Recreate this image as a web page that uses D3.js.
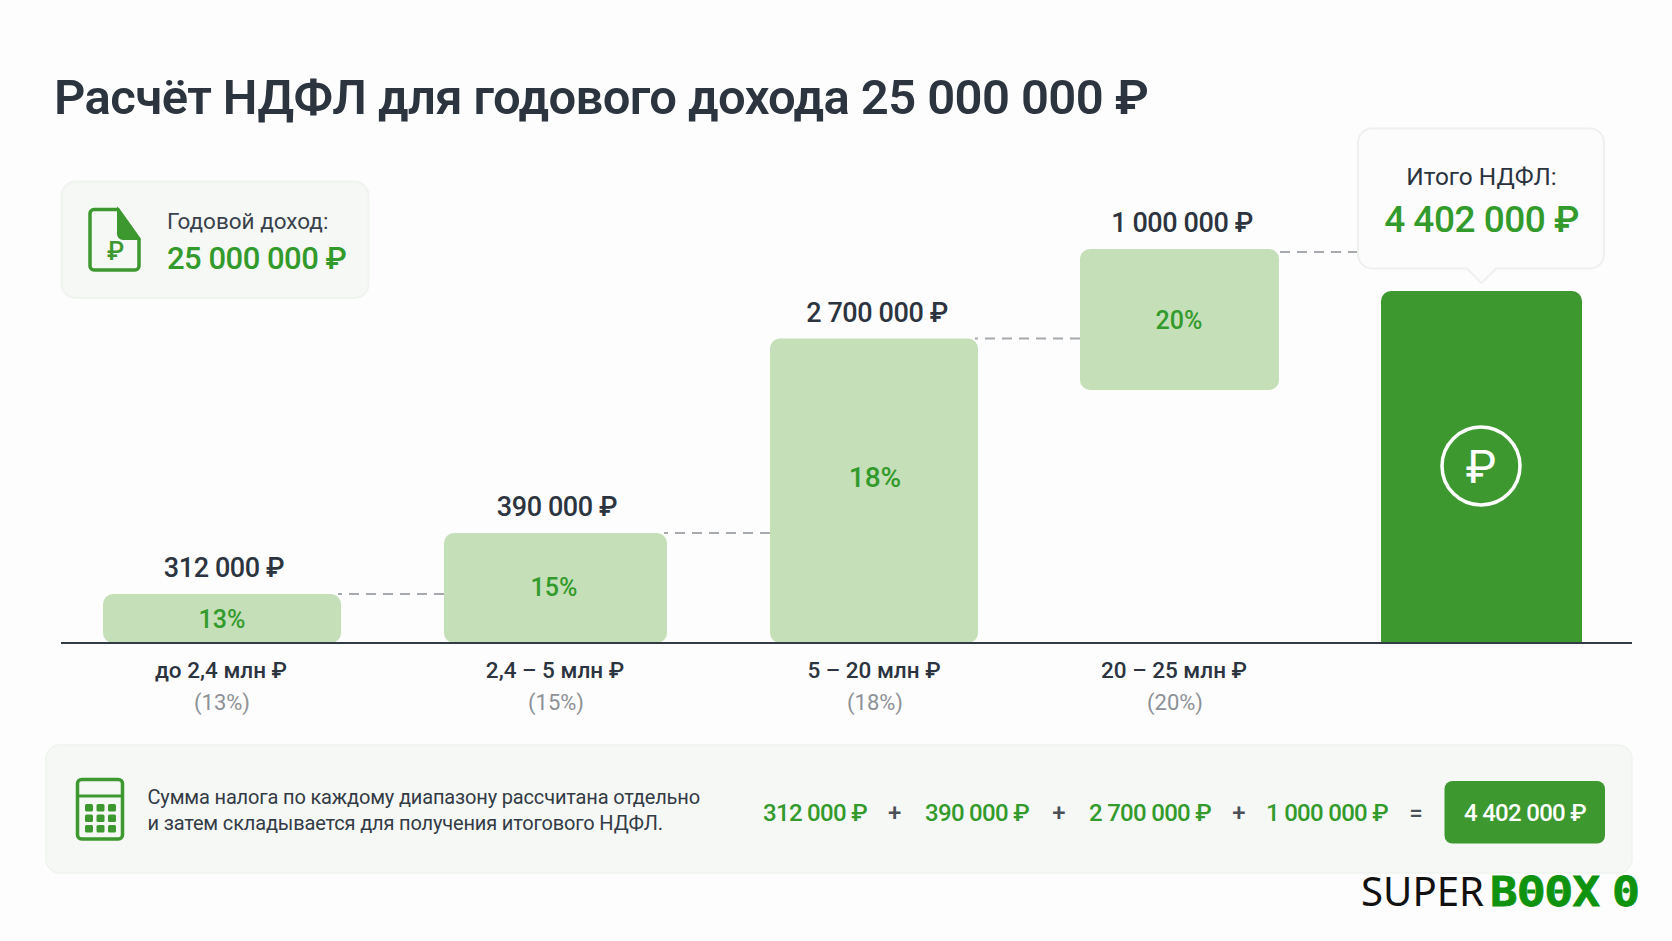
<!DOCTYPE html>
<html>
<head>
<meta charset="utf-8">
<script src="https://cdn.jsdelivr.net/npm/d3@7"></script>
<style>
    html, body { margin: 0; padding: 0; background: #fdfdfd; }
    svg { display: block; }
    text { font-family: Roboto, Inter, "Noto Sans", sans-serif; }
</style>
</head>
<body>
<div id="chart"></div>
<script>
// Data
const title = "Расчёт НДФЛ для годового дохода 25 000 000 ₽";
const income = 25000000;
const categories = ["до 2,4 млн ₽", "2,4 – 5 млн ₽", "5 – 20 млн ₽", "20 – 25 млн ₽"];
const rates = [13, 15, 18, 20];
const taxValues = [312000, 390000, 2700000, 1000000];
// bars are not to scale in the original, so these are drawn heights in chart units
const barLow = [0, 0, 0, 253];
const barHigh = [49, 110, 304.5, 394];
const totalHigh = 352;
const noteLines = ["Сумма налога по каждому диапазону рассчитана отдельно",
    "и затем складывается для получения итогового НДФЛ."];

const width = 1672;
const height = 941;
const green = "#3c982f";
const textGreen = "#339a2c";
const lightGreen = "#c5dfb8";
const dark = "#2c343f";
const panelFill = "#f6f8f5";
const panelStroke = "#eff4ee";

const rub = d3.formatLocale({ decimal: ",", thousands: " ", grouping: [3], currency: ["", " ₽"] }).format("$,");
const total = d3.sum(taxValues);

const y = d3.scaleLinear().domain([0, 400]).range([643, 243]);
// the bars have uneven widths and gaps, so left edge and width go through ordinal scales
const barLeft = d3.scaleOrdinal(categories, [103, 444, 770, 1080]);
const barWidth = d3.scaleOrdinal(categories, [238, 223, 208, 199]);
const valueX = d3.scaleOrdinal(categories, [224, 557, 877, 1182]);
const rateX = d3.scaleOrdinal(categories, [222, 554, 875, 1179]);
const rateSize = d3.scaleOrdinal(categories, [25, 25, 28, 25]);
const rateDy = d3.scaleOrdinal(categories, [9, 8, -4, 9]);
const axisX = d3.scaleOrdinal(categories, [221, 555, 874, 1174]);

const svg = d3.select("#chart").append("svg")
    .attr("width", width)
    .attr("height", height);

svg.append("rect").attr("width", width).attr("height", height).attr("fill", "#fdfdfd");

svg.append("text")
    .attr("x", 54).attr("y", 114)
    .attr("font-size", 49).attr("font-weight", 600)
    .attr("letter-spacing", -0.6)
    .attr("fill", dark)
    .text(title);

// income card
const card = svg.append("g");
card.append("rect")
    .attr("x", 61.5).attr("y", 181.5).attr("width", 307).attr("height", 116.5).attr("rx", 14)
    .attr("fill", panelFill).attr("stroke", panelStroke).attr("stroke-width", 2);
card.append("path")
    .attr("d", "M94 209.5H118L139 239V266a4 4 0 0 1 -4 4H94a4 4 0 0 1 -4 -4V213.5a4 4 0 0 1 4 -4Z")
    .attr("fill", "none").attr("stroke", green).attr("stroke-width", 3.5);
card.append("path")
    .attr("d", "M118 209.5L139 239H123a5 5 0 0 1 -5 -5Z")
    .attr("fill", green).attr("stroke", green).attr("stroke-width", 2);
card.append("text")
    .attr("x", 115.5).attr("y", 260).attr("text-anchor", "middle")
    .attr("font-size", 25).attr("font-weight", 500).attr("fill", green).text("₽");
card.append("text")
    .attr("x", 167).attr("y", 229)
    .attr("font-size", 22.5).attr("fill", "#3a424c").text("Годовой доход:");
card.append("text")
    .attr("x", 167).attr("y", 269)
    .attr("font-size", 31).attr("font-weight", 500).attr("letter-spacing", -0.5)
    .attr("fill", textGreen).text(rub(income));

// dashed connectors, drawn before the bars and the callout
const connectorEnds = categories.map((c, i) => i < 3 ? barLeft(categories[i + 1]) : 1358);
svg.append("g").selectAll("line")
    .data(categories)
    .enter()
    .append("line")
    .attr("x1", (c, i) => connectorEnds[i])
    .attr("x2", c => barLeft(c) + barWidth(c) - 3)
    .attr("y1", (c, i) => y(barHigh[i]) + (i == 3 ? 3 : 0))
    .attr("y2", (c, i) => y(barHigh[i]) + (i == 3 ? 3 : 0))
    .attr("stroke", "#a6a9ae").attr("stroke-width", 2).attr("stroke-dasharray", "10 7");

// step bars
svg.append("g").selectAll("rect")
    .data(categories)
    .enter()
    .append("rect")
    .attr("x", c => barLeft(c))
    .attr("width", c => barWidth(c))
    .attr("y", (c, i) => y(barHigh[i]))
    .attr("height", (c, i) => y(barLow[i]) - y(barHigh[i]))
    .attr("rx", 10)
    .attr("fill", lightGreen);

// value above each bar
svg.append("g").selectAll("text")
    .data(categories)
    .enter()
    .append("text")
    .attr("x", c => valueX(c))
    .attr("y", (c, i) => y(barHigh[i]) - 17)
    .attr("text-anchor", "middle")
    .attr("font-size", 27).attr("font-weight", 500).attr("letter-spacing", -0.4)
    .attr("fill", dark)
    .text((c, i) => rub(taxValues[i]));

// rate inside each bar
svg.append("g").selectAll("text")
    .data(categories)
    .enter()
    .append("text")
    .attr("x", c => rateX(c))
    .attr("y", (c, i) => (y(barLow[i]) + y(barHigh[i])) / 2 + rateDy(c))
    .attr("text-anchor", "middle")
    .attr("font-size", c => rateSize(c)).attr("font-weight", 500).attr("fill", textGreen)
    .text((c, i) => rates[i] + "%");

// total bar, rounded on top only
svg.append("path")
    .attr("d", `M1381 ${y(0)}V${y(totalHigh) + 10}a10 10 0 0 1 10 -10H1572a10 10 0 0 1 10 10V${y(0)}Z`)
    .attr("fill", green);
svg.append("circle")
    .attr("cx", 1481).attr("cy", 466).attr("r", 39)
    .attr("fill", "none").attr("stroke", "#fff").attr("stroke-width", 3.5);
svg.append("text")
    .attr("x", 1481).attr("y", 483).attr("text-anchor", "middle")
    .attr("font-size", 46).attr("font-weight", 400).attr("fill", "#fff").text("₽");

// callout over the total bar
svg.append("path")
    .attr("d", "M1372 128.5H1590a14 14 0 0 1 14 14V254.5a14 14 0 0 1 -14 14H1496L1481.5 283L1467 268.5H1372a14 14 0 0 1 -14 -14V142.5a14 14 0 0 1 14 -14Z")
    .attr("fill", "#fcfcfc").attr("stroke", "#eef0ee").attr("stroke-width", 2);
svg.append("text")
    .attr("x", 1481.5).attr("y", 185).attr("text-anchor", "middle")
    .attr("font-size", 24.4).attr("fill", dark).text("Итого НДФЛ:");
svg.append("text")
    .attr("x", 1481.5).attr("y", 232).attr("text-anchor", "middle")
    .attr("font-size", 37).attr("font-weight", 500).attr("letter-spacing", -0.5)
    .attr("fill", textGreen).text(rub(total));

// baseline and category labels
svg.append("line")
    .attr("x1", 61).attr("x2", 1632).attr("y1", y(0)).attr("y2", y(0))
    .attr("stroke", "#333b46").attr("stroke-width", 2);

svg.append("g").selectAll("text")
    .data(categories)
    .enter()
    .append("text")
    .attr("x", c => axisX(c))
    .attr("y", 678)
    .attr("text-anchor", "middle")
    .attr("font-size", 22.5).attr("font-weight", 500).attr("fill", dark)
    .text(c => c);

svg.append("g").selectAll("text")
    .data(categories)
    .enter()
    .append("text")
    .attr("x", c => axisX(c) + 1)
    .attr("y", 710)
    .attr("text-anchor", "middle")
    .attr("font-size", 22).attr("fill", "#8d9197")
    .text((c, i) => "(" + rates[i] + "%)");

// bottom panel
svg.append("rect")
    .attr("x", 46).attr("y", 745).attr("width", 1586).attr("height", 128).attr("rx", 14)
    .attr("fill", panelFill).attr("stroke", panelStroke).attr("stroke-width", 1.5);

const calc = svg.append("g");
calc.append("rect")
    .attr("x", 77.5).attr("y", 779.5).attr("width", 45).attr("height", 59.5).attr("rx", 4)
    .attr("fill", "none").attr("stroke", green).attr("stroke-width", 3.5);
calc.append("line")
    .attr("x1", 77.5).attr("x2", 122.5).attr("y1", 796).attr("y2", 796)
    .attr("stroke", green).attr("stroke-width", 3);
calc.selectAll("rect.key")
    .data(d3.cross(d3.range(3), d3.range(3)))
    .enter()
    .append("rect")
    .attr("class", "key")
    .attr("x", d => 85 + d[0] * 11.5)
    .attr("y", d => 804 + d[1] * 10.5)
    .attr("width", 8).attr("height", 7.5).attr("rx", 1.5)
    .attr("fill", green);

svg.append("g").selectAll("text")
    .data(noteLines)
    .enter()
    .append("text")
    .attr("x", 147.5)
    .attr("y", (d, i) => 804 + i * 26)
    .attr("font-size", 20).attr("letter-spacing", -0.16).attr("fill", "#333b46")
    .text(d => d);

// the sum row
const sumX = d3.scaleOrdinal(taxValues, [815, 977, 1150, 1327]);
const plusX = [894.6, 1059, 1239];
svg.append("g").selectAll("text")
    .data(taxValues)
    .enter()
    .append("text")
    .attr("x", d => sumX(d))
    .attr("y", 821)
    .attr("text-anchor", "middle")
    .attr("font-size", 24).attr("font-weight", 500).attr("letter-spacing", -0.7)
    .attr("fill", textGreen)
    .text(d => rub(d));
svg.append("g").selectAll("text")
    .data(plusX)
    .enter()
    .append("text")
    .attr("x", d => d)
    .attr("y", 821)
    .attr("text-anchor", "middle")
    .attr("font-size", 24).attr("font-weight", 500).attr("fill", "#4a5058")
    .text("+");
svg.append("text")
    .attr("x", 1416).attr("y", 821).attr("text-anchor", "middle")
    .attr("font-size", 24).attr("font-weight", 500).attr("fill", "#4a5058").text("=");
svg.append("rect")
    .attr("x", 1444.5).attr("y", 781).attr("width", 160.5).attr("height", 62.5).attr("rx", 8)
    .attr("fill", green);
svg.append("text")
    .attr("x", 1525).attr("y", 821).attr("text-anchor", "middle")
    .attr("font-size", 24).attr("font-weight", 500).attr("letter-spacing", -0.7)
    .attr("fill", "#fff").text(rub(total));

// watermark
svg.append("text")
    .attr("x", 1361).attr("y", 906)
    .attr("textLength", 123).attr("lengthAdjust", "spacingAndGlyphs")
    .attr("font-size", 40).attr("font-weight", 400).attr("fill", "#111")
    .style("font-family", "'Noto Sans', sans-serif")
    .text("SUPER");
svg.append("text")
    .attr("x", 1490).attr("y", 906)
    .attr("textLength", 110).attr("lengthAdjust", "spacingAndGlyphs")
    .attr("font-size", 40).attr("font-weight", 700).attr("fill", "#0f930f")
    .attr("stroke", "#0f930f").attr("stroke-width", 0.8)
    .style("font-family", "'DejaVu Sans Mono', monospace")
    .text("BOOX");
// the logo's O letters have a small bar in the middle
svg.append("g").selectAll("rect")
    .data([1.5, 2.5])
    .enter()
    .append("rect")
    .attr("x", d => 1490 + 110 * d / 4 - 4)
    .attr("y", 889.5)
    .attr("width", 8).attr("height", 4)
    .attr("fill", "#0f930f");
svg.append("text")
    .attr("x", 1612).attr("y", 906)
    .attr("textLength", 28).attr("lengthAdjust", "spacingAndGlyphs")
    .attr("font-size", 40).attr("font-weight", 700).attr("fill", "#0f930f")
    .attr("stroke", "#0f930f").attr("stroke-width", 0.8)
    .style("font-family", "'DejaVu Sans Mono', monospace")
    .text("0");
</script>
</body>
</html>
